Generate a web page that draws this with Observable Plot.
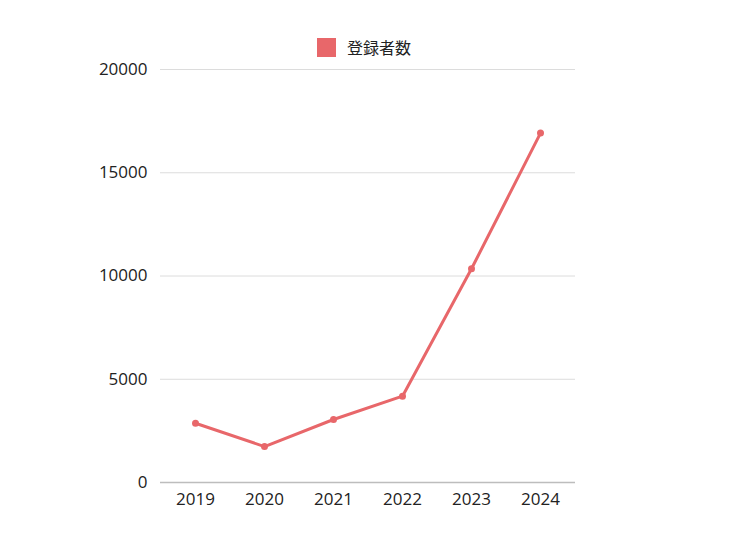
<!DOCTYPE html>
<html>
<head>
<meta charset="utf-8">
<script src="https://cdn.jsdelivr.net/npm/d3@7"></script>
<script src="https://cdn.jsdelivr.net/npm/@observablehq/plot@0.6"></script>
<style>
  body { margin: 0; background: #fff; font-family: "Open Sans", "Noto Sans CJK JP", sans-serif; }
  #wrap { position: relative; width: 736px; height: 552px; }
  #legend { position: absolute; left: 317px; top: 35px; display: flex; align-items: center; font-size: 16px; color: #222; font-family: "Noto Sans CJK JP", "Open Sans", sans-serif; }
  #legend .sw { width: 19px; height: 19px; background: #e8676a; margin-right: 11px; }
</style>
</head>
<body>
<div id="wrap">
  <div id="legend"><span class="sw"></span><span id="lgtext"></span></div>
</div>
<script>
const seriesName = "登録者数";
const years = ["2019", "2020", "2021", "2022", "2023", "2024"];
const registrants = [2870, 1740, 3050, 4180, 10350, 16920];
const yTicks = [0, 5000, 10000, 15000, 20000];
const lineColor = "#e8676a";

const data = years.map((y, i) => ({ year: y, value: registrants[i] }));
document.getElementById("lgtext").textContent = seriesName;

const chart = Plot.plot({
  width: 736,
  height: 552,
  marginLeft: 160,
  marginRight: 161,
  marginTop: 69,
  marginBottom: 70,
  style: { fontFamily: "'Open Sans', sans-serif", fontSize: "17px", color: "#222", background: "transparent" },
  x: { type: "point", domain: years, padding: 0.5, label: null },
  y: { domain: [0, 20000], ticks: yTicks, label: null },
  marks: [
    Plot.ruleY(yTicks.filter(d => d > 0), { stroke: "#dcdcdc", strokeWidth: 1 }),
    Plot.ruleY([0], { stroke: "#bdbdbd", strokeWidth: 1.5 }),
    Plot.axisY({ ticks: yTicks, tickSize: 0, tickPadding: 13, tickFormat: d => String(d), label: null }),
    Plot.axisX({ tickSize: 0, tickPadding: 10, label: null }),
    Plot.line(data, { x: "year", y: "value", stroke: lineColor, strokeWidth: 3 }),
    Plot.dot(data, { x: "year", y: "value", fill: lineColor, r: 3.5 })
  ]
});
chart.style.position = "absolute";
chart.style.left = "0";
chart.style.top = "0";
document.getElementById("wrap").appendChild(chart);
</script>
</body>
</html>
